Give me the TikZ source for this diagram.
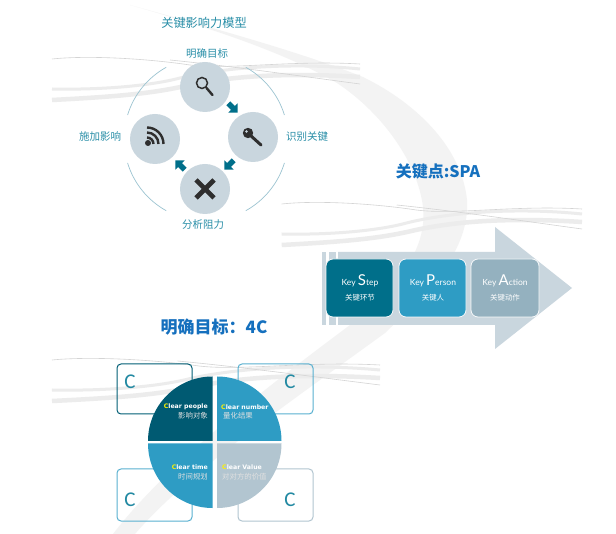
\documentclass[tikz,border=0pt]{standalone}
\usepackage{fontspec}
\setmainfont{Noto Sans CJK SC}
\newfontfamily\keyf{Lato}
\newfontfamily\clf{DejaVu Sans}
\newfontfamily\cf{Carlito}
\usetikzlibrary{shapes.arrows}
\definecolor{teal1}{HTML}{006F8A}
\definecolor{teal2}{HTML}{005A72}
\definecolor{blue1}{HTML}{2E9CC4}
\definecolor{grey1}{HTML}{94B1BF}
\definecolor{grey2}{HTML}{B2C5D0}
\definecolor{pale}{HTML}{C9D6DE}
\definecolor{labelc}{HTML}{2A8FA8}
\definecolor{titleb}{HTML}{1570BE}
\definecolor{icon}{HTML}{2E2E2E}
\definecolor{swoosh}{HTML}{F3F3F3}
\definecolor{wave}{HTML}{ECECEC}
\definecolor{ring}{HTML}{9CC4D1}
\tikzset{
  hub/.style={circle,fill=pale,minimum size=50pt,inner sep=0pt},
  blockarrow/.style={single arrow,fill=teal1,minimum height=13pt,minimum width=13pt,single arrow head extend=2.5pt,single arrow head indent=0pt,inner sep=1.6pt},
  lab/.style={text=labelc,font=\fontsize{10.5}{12}\selectfont,inner sep=0pt},
  keybox/.style={rounded corners=7pt,draw=white!85!pale,line width=0.8pt,minimum width=67pt,minimum height=58pt,inner sep=0pt,text=white,align=center},
  cbox/.style={rounded corners=4pt,line width=1pt,minimum width=75pt,minimum height=50pt,inner sep=0pt},
  cletter/.style={text=labelc!80!teal1,font=\cf\fontsize{21}{21}\selectfont,inner sep=0pt},
  clear/.style={text=white,font=\clf\bfseries\fontsize{6.2}{7}\selectfont,inner sep=0pt},
  clearcn/.style={text=white!88!black,font=\fontsize{7.4}{8}\selectfont,inner sep=0pt},
  iconline/.style={draw=icon,line cap=round},
  wthin/.style={draw=wave!90!black,line width=0.6pt},
  wthick/.style={draw=wave,line width=3pt},
  wwide/.style={draw=wave,line width=4.5pt},
}
\newcommand{\wavestrip}[3]{%
 \begin{scope}[shift={(#1,#2)},xscale=#3]
  \draw[wwide] (52,-100) .. controls (110,-97) and (150,-94) .. (185,-86) .. controls (225,-77) and (280,-72) .. (360,-77);
  \draw[wthick] (52,-89) .. controls (100,-90) and (150,-86) .. (180,-78) .. controls (220,-68) and (290,-62) .. (360,-69);
  \draw[wthin] (52,-59) .. controls (90,-55) and (150,-59) .. (190,-65) .. controls (230,-70) and (290,-60) .. (360,-64);
  \draw[wthin] (170,-60) .. controls (230,-66) and (300,-76) .. (360,-84);
 \end{scope}}
\begin{document}
\begin{tikzpicture}[x=1pt,y=1pt]
\useasboundingbox (0,0) rectangle (616,-534);
\fill[white] (0,0) rectangle (616,-534);
% background swoosh
\fill[swoosh] (130,-5) .. controls (220,-30) and (300,-52) .. (363,-77)
  .. controls (420,-105) and (462,-150) .. (467,-200)
  .. controls (470,-250) and (430,-290) .. (385,-333)
  .. controls (300,-395) and (190,-470) .. (135,-534)
  -- (113,-534)
  .. controls (170,-460) and (270,-385) .. (350,-325)
  .. controls (395,-290) and (428,-250) .. (423,-207)
  .. controls (418,-165) and (385,-115) .. (337,-83)
  .. controls (280,-50) and (200,-25) .. (130,-5) -- cycle;
\wavestrip{0}{0}{1}
\wavestrip{231}{-145}{0.975}
\wavestrip{-3.4}{-301}{1.065}
% model
\node[text=labelc,font=\fontsize{12.2}{14}\selectfont,inner sep=0pt] (t1) at (204,-23) {关键影响力模型};
\foreach \a/\b in {17/61,119/163,197/241,299/343}
  \draw[ring,line width=0.7pt] (206,-139) ++(\a:82) arc[start angle=\a,end angle=\b,radius=82];
\node[hub] (c1) at (205,-87) {};
\node[hub] (c2) at (253,-137) {};
\node[hub] (c3) at (205,-189) {};
\node[hub] (c4) at (155,-139) {};
\node[lab] (l1) at (207,-54) {明确目标};
\node[lab] (l2) at (307,-137) {识别关键};
\node[lab] (l3) at (203,-225) {分析阻力};
\node[lab] (l4) at (100,-137) {施加影响};
\node[blockarrow,rotate=-45] (a1) at (232,-107) {};
\node[blockarrow,rotate=-135] (a2) at (230,-164) {};
\node[blockarrow,rotate=135] (a3) at (181,-166) {};
% icons
\draw[iconline,line width=1.5pt] (202,-83) circle[radius=5.5];
\draw[iconline,line width=2.4pt] (206.5,-88) -- (212.5,-95);
\fill[icon] (248,-133) circle[radius=5.2];
\draw[iconline,line width=3pt] (250,-135) -- (261,-145);
\fill[pale] (246.5,-131.5) circle[radius=1.3];
\fill[icon] (148,-143) circle[radius=3];
\draw[iconline,line width=2.4pt,line cap=butt] (147,-137.5) arc[start angle=90,end angle=0,radius=6.5];
\draw[iconline,line width=2.4pt,line cap=butt] (147,-132.5) arc[start angle=90,end angle=0,radius=11.5];
\draw[iconline,line width=2.4pt,line cap=butt] (147,-127.5) arc[start angle=90,end angle=0,radius=16.5];
\draw[iconline,line width=4.6pt,line cap=butt] (196,-180) -- (214,-198);
\draw[iconline,line width=4.6pt,line cap=butt] (214,-180) -- (196,-198);
% SPA
\node[text=titleb,font=\bfseries\fontsize{16}{18}\selectfont,inner sep=0pt] (t2) at (438,-172) {关键点:SPA};
\fill[pale] (338,-252) -- (495,-252) -- (495,-227) -- (572,-288) -- (495,-349) -- (495,-325) -- (338,-325) -- cycle;
\fill[pale] (322,-252) rectangle (326,-325);
\fill[pale] (329,-252) rectangle (336,-325);
\node[keybox,fill=teal1] (k1) at (359.5,-288) {};
\node[keybox,fill=blue1] (k2) at (432.5,-288) {};
\node[keybox,fill=grey1,minimum width=68pt] (k3) at (505,-288) {};
\foreach \n/\x/\y/\l/\r/\cn in {k1t/360/S/S/tep/关键环节,k2t/433/P/P/erson/关键人,k3t/505/A/A/ction/关键动作}{
  \node[text=white,inner sep=0pt,font=\keyf\fontsize{8.5}{9}\selectfont] (\n) at (\x,-281) {Key {\fontsize{15}{15}\selectfont\l}\r};
  \node[text=white,inner sep=0pt,font=\fontsize{7.4}{8}\selectfont] (\n c) at (\x,-298) {\cn};
}
% 4C
\node[text=titleb,font=\bfseries\fontsize{17}{18}\selectfont,inner sep=0pt] (t3) at (214,-327) {明确目标：4C};
\node[cbox,draw=teal1!85!black] (b1) at (154.5,-389) {};
\node[cbox,draw=blue1!80!white] (b2) at (275.5,-389) {};
\node[cbox,draw=blue1!80!white,minimum height=52pt] (b3) at (154.5,-495) {};
\node[cbox,draw=grey2,minimum height=52pt] (b4) at (275.5,-495) {};
\node[cletter] (cl1) at (130,-382) {C};
\node[cletter] (cl2) at (290,-382) {C};
\node[cletter] (cl3) at (130,-500) {C};
\node[cletter] (cl4) at (290,-500) {C};
\def\pr{66.5}
\fill[teal2] (212.5,-441) -- ++(-\pr+2,0) arc[start angle=180,end angle=90,radius=\pr-2] -- cycle;
\fill[blue1] (217,-441) -- ++(\pr-2,0) arc[start angle=0,end angle=90,radius=\pr-2] -- cycle;
\fill[blue1] (212.5,-443.5) -- ++(-\pr+2,0) arc[start angle=180,end angle=270,radius=\pr-2] -- cycle;
\fill[grey2] (217,-443.5) -- ++(\pr-2,0) arc[start angle=0,end angle=-90,radius=\pr-2] -- cycle;
\node[clear,anchor=east] (p1) at (208,-407) {\textcolor{yellow}{C}lear people};
\node[clearcn,anchor=east] (p1c) at (208,-416) {影响对象};
\node[clear,anchor=west] (p2) at (221,-407) {\textcolor{yellow}{C}lear number};
\node[clearcn,anchor=west] (p2c) at (223,-416) {量化结果};
\node[clear,anchor=east] (p3) at (208,-467) {\textcolor{yellow}{C}lear time};
\node[clearcn,anchor=east] (p3c) at (208,-477) {时间规划};
\node[clear,anchor=west] (p4) at (222,-467) {\textcolor{yellow}{C}lear Value};
\node[clearcn,anchor=west] (p4c) at (222,-477) {对对方的价值};
\end{tikzpicture}
\end{document}
